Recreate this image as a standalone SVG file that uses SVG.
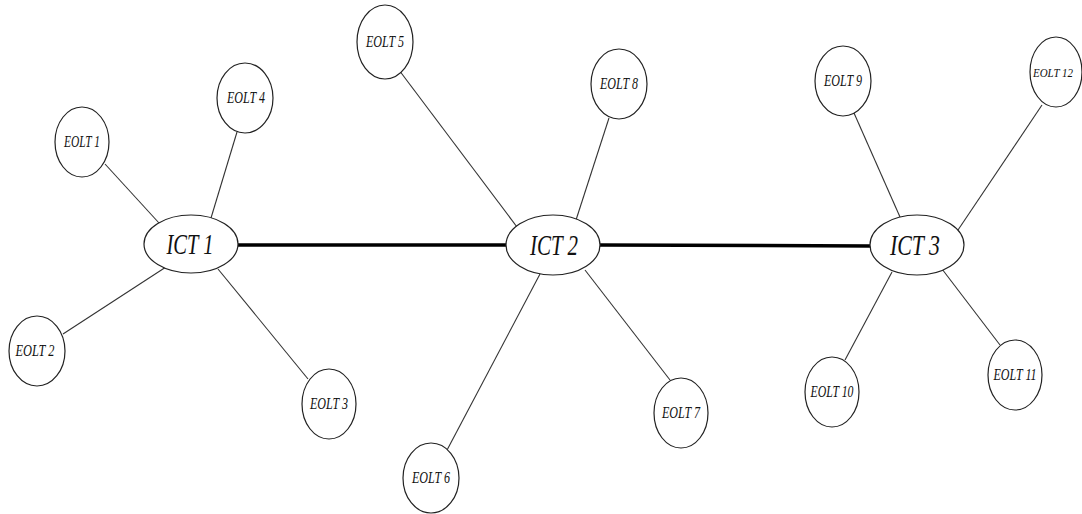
<svg xmlns="http://www.w3.org/2000/svg" width="1082" height="514" viewBox="0 0 1082 514">
<style>
.n ellipse{fill:#fff;stroke:#222;stroke-width:1.2}
.e text{font-family:"Liberation Serif",serif;font-style:italic;font-size:16px;fill:#111;text-anchor:middle}
.i text{font-family:"Liberation Serif",serif;font-style:italic;font-size:30px;fill:#111;text-anchor:middle}
.thin line{stroke:#333;stroke-width:1.1}
.thick line{stroke:#000;stroke-width:3.5}
</style>
<rect width="1082" height="514" fill="#fff"/>
<g id="connectors">
<g class="thick">
<line x1="238" y1="245" x2="508" y2="245"/>
<line x1="599" y1="245" x2="871" y2="246"/>
</g>
<g class="thin">
<line x1="105" y1="164" x2="159" y2="223"/>
<line x1="237" y1="132" x2="211" y2="218"/>
<line x1="63" y1="334" x2="166" y2="267"/>
<line x1="308" y1="379" x2="218" y2="269"/>
<line x1="399" y1="70" x2="517" y2="227"/>
<line x1="609" y1="118" x2="576" y2="220"/>
<line x1="446" y1="452" x2="540" y2="274"/>
<line x1="670" y1="380" x2="585" y2="270"/>
<line x1="854" y1="113" x2="900" y2="217"/>
<line x1="1042" y1="105" x2="958" y2="230"/>
<line x1="845" y1="360" x2="892" y2="272"/>
<line x1="1000" y1="345" x2="942" y2="269"/>
</g>
</g>
<g id="ICT1" class="n i"><ellipse cx="191" cy="244" rx="47" ry="29"/><text x="190" y="254" textLength="47" lengthAdjust="spacingAndGlyphs">ICT 1</text></g>
<g id="ICT2" class="n i"><ellipse cx="553" cy="245" rx="47" ry="30"/><text x="554" y="255" textLength="48" lengthAdjust="spacingAndGlyphs">ICT 2</text></g>
<g id="ICT3" class="n i"><ellipse cx="917" cy="245" rx="47" ry="30"/><text x="915" y="255" textLength="50" lengthAdjust="spacingAndGlyphs">ICT 3</text></g>
<g id="EOLT1" class="n e"><ellipse cx="82" cy="142" rx="27" ry="35"/><text x="82" y="147" textLength="36" lengthAdjust="spacingAndGlyphs">EOLT 1</text></g>
<g id="EOLT4" class="n e"><ellipse cx="245" cy="98" rx="28" ry="35"/><text x="246" y="103" textLength="38" lengthAdjust="spacingAndGlyphs">EOLT 4</text></g>
<g id="EOLT2" class="n e"><ellipse cx="37" cy="351" rx="28" ry="35"/><text x="35" y="356" textLength="39" lengthAdjust="spacingAndGlyphs">EOLT 2</text></g>
<g id="EOLT3" class="n e"><ellipse cx="329" cy="404" rx="27" ry="35"/><text x="329" y="409" textLength="38" lengthAdjust="spacingAndGlyphs">EOLT 3</text></g>
<g id="EOLT5" class="n e"><ellipse cx="385" cy="42" rx="28" ry="37"/><text x="385" y="47" textLength="38" lengthAdjust="spacingAndGlyphs">EOLT 5</text></g>
<g id="EOLT8" class="n e"><ellipse cx="619" cy="84" rx="28" ry="35"/><text x="619" y="89" textLength="38" lengthAdjust="spacingAndGlyphs">EOLT 8</text></g>
<g id="EOLT6" class="n e"><ellipse cx="431" cy="478" rx="28" ry="35"/><text x="431" y="483" textLength="38" lengthAdjust="spacingAndGlyphs">EOLT 6</text></g>
<g id="EOLT7" class="n e"><ellipse cx="681" cy="413" rx="27" ry="35"/><text x="681" y="418" textLength="38" lengthAdjust="spacingAndGlyphs">EOLT 7</text></g>
<g id="EOLT9" class="n e"><ellipse cx="843" cy="81" rx="28" ry="35"/><text x="843" y="86" textLength="38" lengthAdjust="spacingAndGlyphs">EOLT 9</text></g>
<g id="EOLT12" class="n e"><ellipse cx="1056" cy="72" rx="26" ry="35"/><text x="1053" y="77" style="font-size:13px" textLength="40" lengthAdjust="spacingAndGlyphs">EOLT 12</text></g>
<g id="EOLT10" class="n e"><ellipse cx="832" cy="392" rx="27" ry="35"/><text x="832" y="397" textLength="43" lengthAdjust="spacingAndGlyphs">EOLT 10</text></g>
<g id="EOLT11" class="n e"><ellipse cx="1015" cy="375" rx="27" ry="35"/><text x="1015" y="380" textLength="43" lengthAdjust="spacingAndGlyphs">EOLT 11</text></g>
</svg>
